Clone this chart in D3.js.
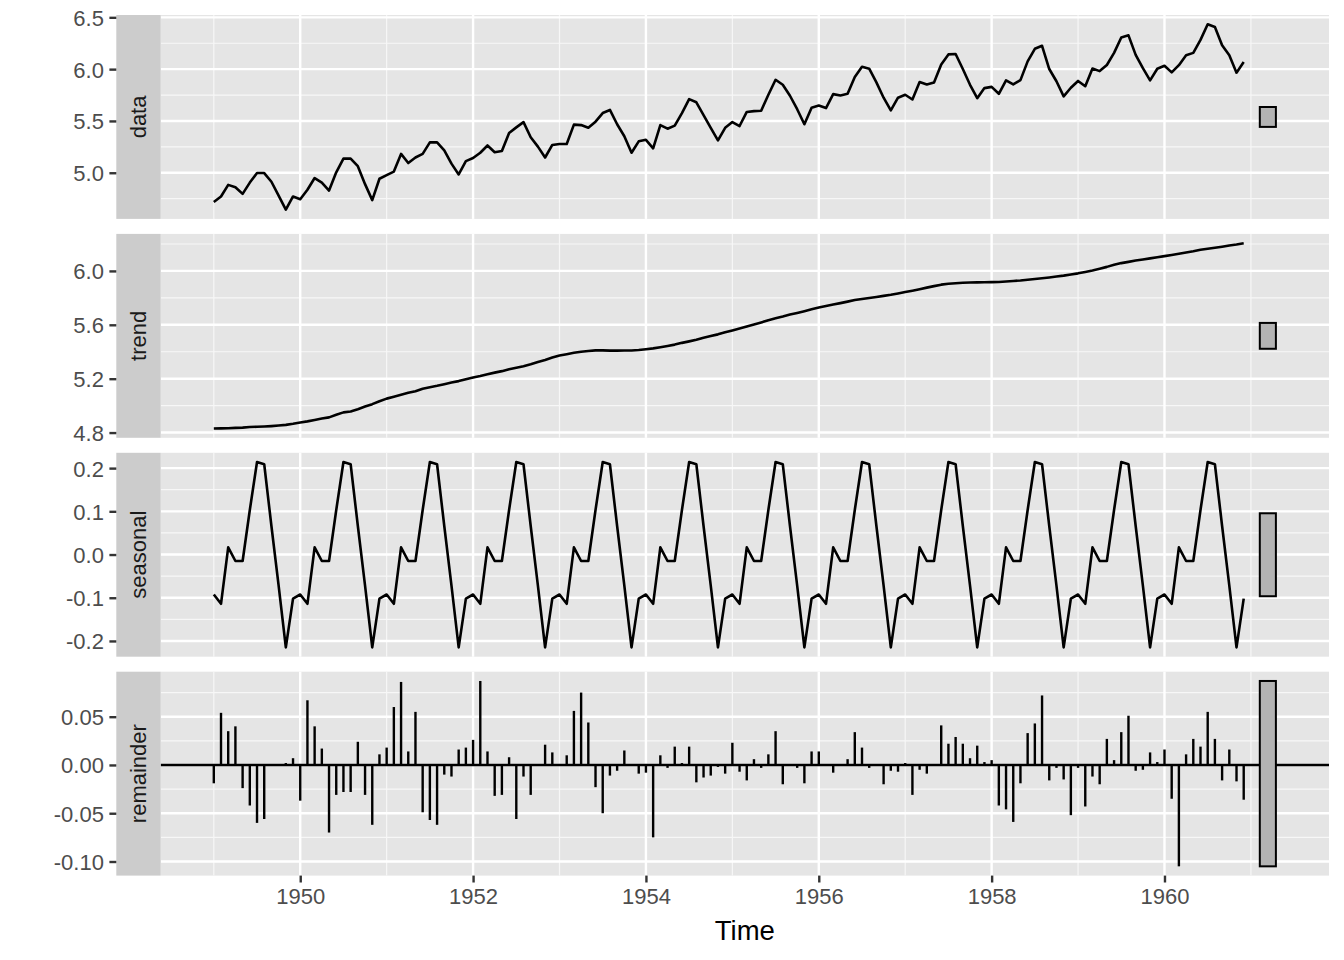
<!DOCTYPE html>
<html>
<head>
  <meta charset='utf-8'>
  <script src="https://d3js.org/d3.v7.min.js"></script>
  <style>
    body { margin: 0; background: #ffffff; }
    svg text { font-family: "Liberation Sans", Arial, Helvetica, sans-serif; }
  </style>
</head>
<body>
  <script type='text/javascript'>
    // Monthly series, Jan 1949 - Dec 1960 (log air passengers, STL decomposition)
    var startYear = 1949;

    var dataVals = [
      4.718, 4.771, 4.883, 4.860, 4.796, 4.905, 4.997, 4.997, 4.913, 4.779, 4.644, 4.771,
      4.745, 4.836, 4.949, 4.905, 4.828, 5.004, 5.136, 5.136, 5.063, 4.890, 4.736, 4.942,
      4.977, 5.011, 5.182, 5.094, 5.147, 5.182, 5.293, 5.293, 5.215, 5.088, 4.984, 5.112,
      5.142, 5.193, 5.263, 5.198, 5.209, 5.384, 5.438, 5.489, 5.342, 5.252, 5.147, 5.268,
      5.278, 5.278, 5.464, 5.460, 5.434, 5.493, 5.576, 5.606, 5.468, 5.352, 5.193, 5.303,
      5.318, 5.236, 5.460, 5.425, 5.455, 5.576, 5.710, 5.680, 5.557, 5.434, 5.313, 5.434,
      5.489, 5.451, 5.587, 5.595, 5.598, 5.753, 5.897, 5.849, 5.743, 5.613, 5.468, 5.628,
      5.649, 5.624, 5.759, 5.746, 5.762, 5.924, 6.023, 6.004, 5.872, 5.724, 5.602, 5.724,
      5.753, 5.707, 5.875, 5.852, 5.872, 6.045, 6.142, 6.146, 6.001, 5.849, 5.720, 5.817,
      5.829, 5.762, 5.892, 5.852, 5.894, 6.075, 6.196, 6.225, 6.001, 5.883, 5.737, 5.820,
      5.886, 5.835, 6.006, 5.981, 6.040, 6.157, 6.306, 6.326, 6.138, 6.009, 5.892, 6.004,
      6.033, 5.969, 6.038, 6.133, 6.157, 6.282, 6.433, 6.407, 6.230, 6.133, 5.966, 6.068
    ];

    var trendVals = [
      4.830, 4.831, 4.832, 4.835, 4.837, 4.841, 4.843, 4.845, 4.848, 4.852, 4.857, 4.865,
      4.875, 4.883, 4.893, 4.904, 4.913, 4.932, 4.950, 4.956, 4.973, 4.993, 5.011, 5.033,
      5.052, 5.066, 5.080, 5.095, 5.107, 5.125, 5.137, 5.147, 5.159, 5.172, 5.182, 5.196,
      5.209, 5.220, 5.233, 5.245, 5.256, 5.270, 5.281, 5.293, 5.307, 5.324, 5.339, 5.357,
      5.372, 5.382, 5.392, 5.400, 5.405, 5.410, 5.410, 5.408, 5.408, 5.409, 5.409, 5.413,
      5.419, 5.425, 5.434, 5.443, 5.453, 5.466, 5.477, 5.489, 5.504, 5.517, 5.529, 5.544,
      5.558, 5.572, 5.587, 5.603, 5.618, 5.634, 5.648, 5.661, 5.676, 5.688, 5.701, 5.715,
      5.728, 5.739, 5.750, 5.761, 5.772, 5.784, 5.792, 5.799, 5.807, 5.815, 5.823, 5.833,
      5.843, 5.853, 5.864, 5.876, 5.887, 5.898, 5.905, 5.909, 5.912, 5.914, 5.915, 5.916,
      5.917, 5.918, 5.921, 5.925, 5.929, 5.935, 5.940, 5.945, 5.951, 5.958, 5.965, 5.974,
      5.982, 5.992, 6.003, 6.016, 6.030, 6.046, 6.058, 6.067, 6.077, 6.085, 6.093, 6.102,
      6.110, 6.118, 6.127, 6.137, 6.146, 6.157, 6.165, 6.172, 6.180, 6.189, 6.196, 6.206
    ];

    // Periodic seasonal component, Jan..Dec (same every year)
    var seasonalMonths = [-0.0925, -0.114, 0.0165, -0.015, -0.015, 0.103, 0.214, 0.209, 0.066, -0.072, -0.215, -0.102];

    var remainderVals = [
      -0.019, 0.054, 0.035, 0.040, -0.024, -0.042, -0.060, -0.056, 0.000, -0.001, 0.002, 0.007,
      -0.037, 0.067, 0.040, 0.017, -0.070, -0.031, -0.028, -0.028, 0.024, -0.031, -0.062, 0.011,
      0.018, 0.060, 0.086, 0.014, 0.055, -0.049, -0.057, -0.062, -0.010, -0.012, 0.016, 0.018,
      0.026, 0.087, 0.014, -0.032, -0.031, 0.008, -0.056, -0.012, -0.031, 0.000, 0.021, 0.013,
      -0.001, 0.010, 0.056, 0.075, 0.044, -0.023, -0.050, -0.011, -0.006, 0.015, 0.000, -0.009,
      -0.008, -0.075, 0.010, -0.003, 0.019, 0.002, 0.019, -0.018, -0.013, -0.011, -0.002, -0.009,
      0.023, -0.007, -0.016, 0.006, -0.003, 0.011, 0.035, -0.020, 0.001, -0.003, -0.019, 0.014,
      0.014, 0.000, -0.008, 0.000, 0.006, 0.034, 0.018, -0.003, 0.000, -0.020, -0.006, -0.007,
      0.002, -0.031, -0.005, -0.009, 0.000, 0.041, 0.022, 0.029, 0.022, 0.007, 0.020, 0.003,
      0.005, -0.042, -0.046, -0.059, -0.019, 0.033, 0.043, 0.072, -0.016, -0.003, -0.015, -0.052,
      -0.003, -0.043, -0.012, -0.020, 0.027, 0.005, 0.034, 0.051, -0.006, -0.005, 0.013, 0.003,
      0.016, -0.035, -0.105, 0.011, 0.027, 0.019, 0.055, 0.027, -0.016, 0.016, -0.017, -0.036
    ];

    // Axis breaks
    var yearTicks = [1950, 1952, 1954, 1956, 1958, 1960];
    var yearMinor = [1949, 1951, 1953, 1955, 1957, 1959, 1961];
    var dataTicks = [5.0, 5.5, 6.0, 6.5];
    var dataMinor = [4.75, 5.25, 5.75, 6.25];
    var trendTicks = [4.8, 5.2, 5.6, 6.0];
    var trendMinor = [5.0, 5.4, 5.8, 6.2];
    var seasonalTicks = [-0.2, -0.1, 0.0, 0.1, 0.2];
    var seasonalMinor = [-0.15, -0.05, 0.05, 0.15];
    var remainderTicks = [-0.10, -0.05, 0.00, 0.05];
    var remainderMinor = [-0.075, -0.025, 0.025, 0.075];

    // Layout
    var W = 1344, H = 960;
    var axisX = 116.3, stripW = 44.4;
    var panelL = axisX + stripW, panelR = 1329;
    var plotTop = 15, panelH = 203.9, gap = 15;
    var tickLen = 6.9, tickPad = 5.5;

    var svg = d3.select('body')
      .append('svg')
      .attr('width', W)
      .attr('height', H);

    var n = dataVals.length;
    var times = d3.range(n).map(function(i) { return startYear + i / 12; });
    var seasonalVals = d3.range(n).map(function(i) { return seasonalMonths[i % 12]; });

    var panels = [
      {name: 'data', vals: dataVals, ticks: dataTicks, minor: dataMinor, dec: 1, type: 'line'},
      {name: 'trend', vals: trendVals, ticks: trendTicks, minor: trendMinor, dec: 1, type: 'line'},
      {name: 'seasonal', vals: seasonalVals, ticks: seasonalTicks, minor: seasonalMinor, dec: 1, type: 'line'},
      {name: 'remainder', vals: remainderVals, ticks: remainderTicks, minor: remainderMinor, dec: 2, type: 'bar'}
    ];

    // range bars: same length in every panel (smallest range), placed right of the data
    var tEnd = times[n - 1];
    var barW = (tEnd - startYear) / 64;
    var barLen = d3.min(panels, function(p) { var e = d3.extent(p.vals); return e[1] - e[0]; });
    var xHi = tEnd + 2 * barW;
    var xPad = (xHi - startYear) * 0.05;
    var x = d3.scaleLinear().domain([startYear - xPad, xHi + xPad]).range([panelL, panelR]);

    panels.forEach(function(p, k) {
      var y0 = plotTop + k * (panelH + gap);
      var ext = d3.extent(p.vals);
      var mid = (ext[0] + ext[1]) / 2;
      var lo = Math.min(ext[0], mid - barLen / 2), hi = Math.max(ext[1], mid + barLen / 2);
      var pad = (hi - lo) * 0.05;
      var y = d3.scaleLinear().domain([lo - pad, hi + pad]).range([y0 + panelH, y0]);

      var g = svg.append('g');

      // panel background
      g.append('rect')
        .attr('x', panelL).attr('y', y0)
        .attr('width', panelR - panelL).attr('height', panelH)
        .attr('fill', '#E5E5E5');

      // minor grid
      g.selectAll('.hmin').data(p.minor).enter().append('line')
        .attr('x1', panelL).attr('x2', panelR)
        .attr('y1', function(d) { return y(d); }).attr('y2', function(d) { return y(d); })
        .attr('stroke', '#F7F7F7').attr('stroke-width', 1.2);
      g.selectAll('.vmin').data(yearMinor).enter().append('line')
        .attr('y1', y0).attr('y2', y0 + panelH)
        .attr('x1', function(d) { return x(d); }).attr('x2', function(d) { return x(d); })
        .attr('stroke', '#F7F7F7').attr('stroke-width', 1.2);

      // major grid
      g.selectAll('.hmaj').data(p.ticks).enter().append('line')
        .attr('x1', panelL).attr('x2', panelR)
        .attr('y1', function(d) { return y(d); }).attr('y2', function(d) { return y(d); })
        .attr('stroke', '#fff').attr('stroke-width', 2.4);
      g.selectAll('.vmaj').data(yearTicks).enter().append('line')
        .attr('y1', y0).attr('y2', y0 + panelH)
        .attr('x1', function(d) { return x(d); }).attr('x2', function(d) { return x(d); })
        .attr('stroke', '#fff').attr('stroke-width', 2.4);

      // series
      if (p.type === 'line') {
        var line = d3.line()
          .x(function(d, i) { return x(times[i]); })
          .y(function(d) { return y(d); });
        g.append('path')
          .datum(p.vals)
          .attr('d', line)
          .attr('fill', 'none')
          .attr('stroke', '#000')
          .attr('stroke-width', 2.6)
          .attr('stroke-linejoin', 'round');
      } else {
        g.append('line')
          .attr('x1', panelL).attr('x2', panelR)
          .attr('y1', y(0)).attr('y2', y(0))
          .attr('stroke', '#000').attr('stroke-width', 2.4);
        g.selectAll('.seg').data(p.vals).enter().append('line')
          .attr('x1', function(d, i) { return x(times[i]); })
          .attr('x2', function(d, i) { return x(times[i]); })
          .attr('y1', y(0))
          .attr('y2', function(d) { return y(d); })
          .attr('stroke', '#000').attr('stroke-width', 2.4);
      }

      // range bar
      g.append('rect')
        .attr('x', x(tEnd + barW))
        .attr('width', x(tEnd + 2 * barW) - x(tEnd + barW))
        .attr('y', y(mid + barLen / 2))
        .attr('height', y(mid - barLen / 2) - y(mid + barLen / 2))
        .attr('fill', '#B3B3B3')
        .attr('stroke', '#000')
        .attr('stroke-width', 2);

      // strip on the left
      g.append('rect')
        .attr('x', axisX).attr('y', y0)
        .attr('width', stripW).attr('height', panelH)
        .attr('fill', '#CCCCCC');
      g.append('text')
        .attr('transform', 'translate(' + (axisX + stripW / 2) + ',' + (y0 + panelH / 2) + ') rotate(-90)')
        .attr('text-anchor', 'middle')
        .attr('dy', '0.35em')
        .style('font-size', '22px')
        .attr('fill', '#1A1A1A')
        .text(p.name);

      // y axis
      var ax = g.append('g')
        .attr('transform', 'translate(' + axisX + ',0)')
        .call(d3.axisLeft(y)
          .tickValues(p.ticks)
          .tickSize(tickLen)
          .tickPadding(tickPad)
          .tickFormat(function(d) { return d.toFixed(p.dec); }));
      ax.select('.domain').remove();
      ax.selectAll('line').attr('stroke', '#333333').attr('stroke-width', 2.4);
      ax.selectAll('text')
        .attr('fill', '#4D4D4D')
        .attr('dy', '0.36em')
        .style('font-size', '22px');

      // x axis under the last panel
      if (k === panels.length - 1) {
        var bx = svg.append('g')
          .attr('transform', 'translate(0,' + (y0 + panelH) + ')')
          .call(d3.axisBottom(x)
            .tickValues(yearTicks)
            .tickSize(tickLen)
            .tickPadding(tickPad)
            .tickFormat(function(d) { return String(d); }));
        bx.select('.domain').remove();
        bx.selectAll('line').attr('stroke', '#333333').attr('stroke-width', 2.4);
        bx.selectAll('text')
          .attr('fill', '#4D4D4D')
          .style('font-size', '22px');
      }
    });

    // axis title
    svg.append('text')
      .attr('x', (panelL + panelR) / 2)
      .attr('y', 939.5)
      .attr('text-anchor', 'middle')
      .style('font-size', '27.5px')
      .attr('fill', '#000')
      .text('Time');
  </script>
</body>
</html>
